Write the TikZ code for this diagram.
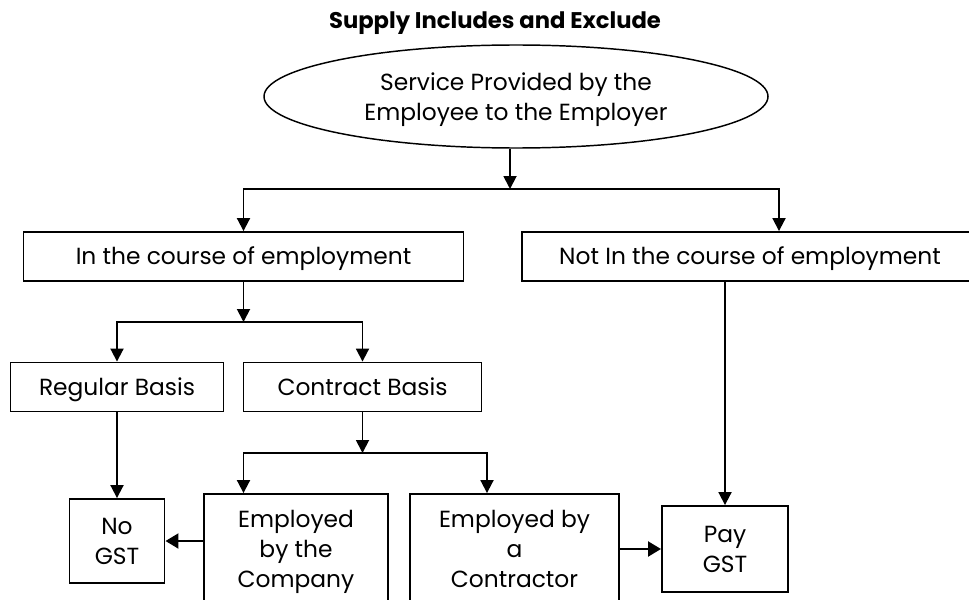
\documentclass[tikz,border=0pt]{standalone}
\usepackage{fontspec}
\setmainfont{Poppins}
\usetikzlibrary{positioning,shapes.geometric,arrows.meta}

\begin{document}
\begin{tikzpicture}[
    % pixel grid, y downwards
    x=0.75pt, y=-0.75pt,
    box/.style={draw=black, line width=1.4pt, fill=white, inner sep=0pt, align=center,
        text depth=0pt, font=\fontsize{17.5}{22.5}\selectfont},
    onerow/.style={box, text height=12.2pt},
    oval/.style={box, ellipse, line width=1.1pt},
    arrow/.style={-{Triangle[length=9.75pt,width=9.75pt]}, line width=1.4pt},
    sidearrow/.style={-{Triangle[length=9.75pt,width=11pt]}, line width=2.2pt}
]
\useasboundingbox (0,0) rectangle (969,599);
\clip (0,0) rectangle (969,599);

% Title
\node[font=\bfseries\fontsize{17}{20}\selectfont, text height=12pt, text depth=0pt] (title) at (495,20.5)
    {Supply Includes and Exclude};
% Row 1
\node[oval, minimum width=378pt, minimum height=77.25pt] (service) at (516,96.5)
    {Service Provided by the\\Employee to the Employer};
% Row 2
\node[onerow, minimum width=330pt, minimum height=36.75pt] (course) at (243.5,256.5) {In the course of employment};
\node[onerow, minimum width=342pt, minimum height=36.75pt] (notcourse) at (750,256.5) {Not In the course of employment};
% Row 3
\node[onerow, minimum width=159.75pt, minimum height=36.75pt] (regular) at (117,387) {Regular Basis};
\node[onerow, minimum width=178.5pt, minimum height=36.75pt] (contract) at (362.5,387) {Contract Basis};
% Row 4
\node[box, minimum width=71.25pt, minimum height=63pt] (nogst) at (117,541) {No\\GST};
\node[box, minimum width=138pt, minimum height=82.5pt] (company) at (296,549) {Employed\\by the\\Company};
\node[box, minimum width=156.75pt, minimum height=82.5pt] (contractor) at (514.5,549) {Employed by\\a\\Contractor};
\node[box, minimum width=94.5pt, minimum height=64.5pt] (pay) at (725,549) {Pay\\GST};

% Split points
\coordinate (split1) at (510,189);
\coordinate (split2) at (243.5,322);
\coordinate (split3) at (362.5,453);
\coordinate (drop1) at (779,0);
\coordinate (drop2) at (243.5,0);
\coordinate (drop3) at (487,0);

% Connectors
\draw[arrow] (split1 |- service.south) -- (split1);
\draw[arrow] (split1) -| (course.north);
\draw[arrow] (split1) -| (drop1 |- notcourse.north);
\draw[arrow] (course.south) -- (split2);
\draw[arrow] (split2) -| (regular.north);
\draw[arrow] (split2) -| (contract.north);
\draw[arrow] (regular.south) -- (nogst.north);
\draw[arrow] (contract.south) -- (split3);
\draw[arrow] (split3) -| (drop2 |- company.north);
\draw[arrow] (split3) -| (drop3 |- contractor.north);
\draw[sidearrow] (company.west |- nogst.east) -- (nogst.east);
\draw[sidearrow] (contractor.east |- pay.west) -- (pay.west);
\draw[arrow] (pay.north |- notcourse.south) -- (pay.north);

\end{tikzpicture}
\end{document}
